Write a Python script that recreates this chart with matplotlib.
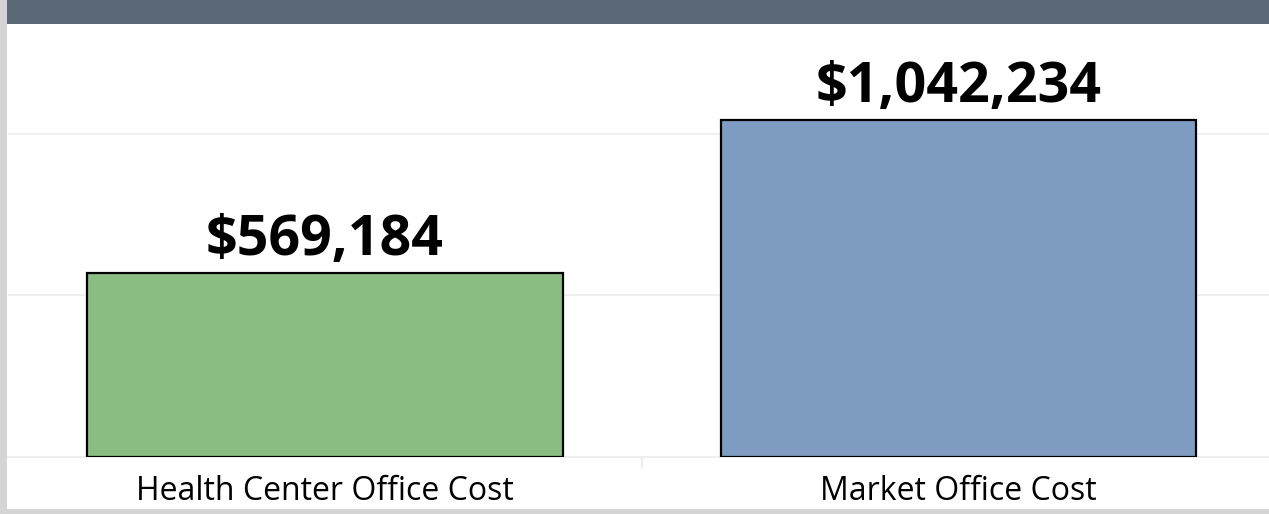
import matplotlib.pyplot as plt
from matplotlib.patches import Rectangle
from matplotlib.transforms import blended_transform_factory

categories = ["Health Center Office Cost", "Market Office Cost"]
costs = [569184, 1042234]
bar_colors = ["#89bd81", "#7f9dc2"]
gridlines = [500000, 1000000]

W, H = 1269, 514
fig = plt.figure(figsize=(W / 100, H / 100), dpi=100, facecolor="white")

# frame pieces around the worksheet (dashboard chrome)
fig.add_artist(Rectangle((0, 1 - 24 / H), 1, 24 / H, transform=fig.transFigure,
                         color="#5b6876", lw=0, zorder=0))
fig.add_artist(Rectangle((0, 0), 7 / W, 1, transform=fig.transFigure,
                         color="#d4d4d4", lw=0, zorder=0))
fig.add_artist(Rectangle((0, 0), 1, 5 / H, transform=fig.transFigure,
                         color="#d4d4d4", lw=0, zorder=0))

ax = fig.add_axes([8 / W, (H - 457) / H, (W - 8) / W, (457 - 24) / H])
ax.set_facecolor("none")

x = list(range(len(categories)))
ax.bar(x, costs, width=0.751, color=bar_colors, edgecolor="black", linewidth=1.6, zorder=3)

for y in gridlines:
    ax.axhline(y, color="#efefef", lw=1.3, zorder=1)

ax.set_xlim(-0.5, 1.49)
ax.set_ylim(0, 1339300)

for s in ["top", "left", "right"]:
    ax.spines[s].set_visible(False)
ax.spines["bottom"].set_color("#eeeeee")
ax.spines["bottom"].set_linewidth(1.3)
ax.set_xticks([])
ax.set_yticks([])

trans = blended_transform_factory(ax.transData, ax.transAxes)
ax.plot([0.5, 0.5], [0, -0.025], transform=trans, color="#eeeeee", lw=1.5, clip_on=False)

for xi, v, name in zip(x, costs, categories):
    ax.annotate(f"${v:,.0f}", (xi, v), xytext=(0, 13), textcoords="offset points",
                ha="center", va="baseline", fontsize=40, fontweight="bold",
                family=["Open Sans", "DejaVu Sans"], color="black")
    ax.annotate(name, (xi, 0), xycoords=trans, xytext=(0, -31), textcoords="offset points",
                ha="center", va="baseline", fontsize=23,
                family=["Open Sans", "DejaVu Sans"], color="black")

fig.savefig("out.png", dpi=100)
